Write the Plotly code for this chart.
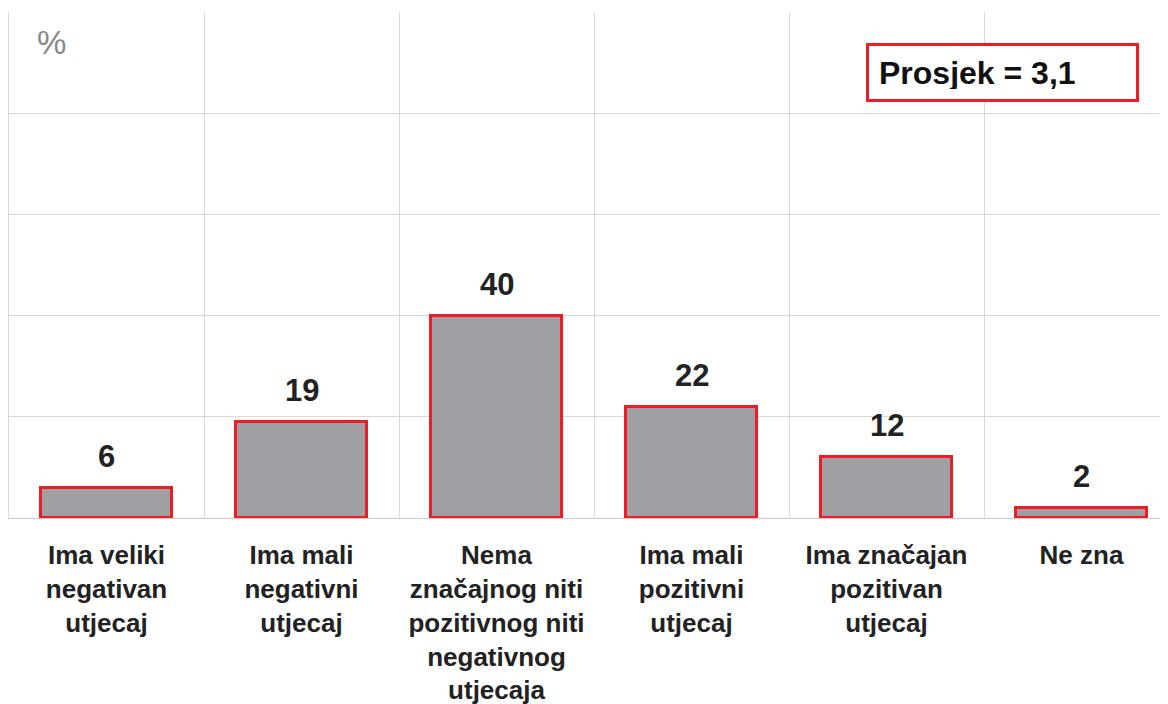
import plotly.graph_objects as go

categories = [
    "Ima veliki<br>negativan<br>utjecaj",
    "Ima mali<br>negativni<br>utjecaj",
    "Nema<br>značajnog niti<br>pozitivnog niti<br>negativnog<br>utjecaja",
    "Ima mali<br>pozitivni<br>utjecaj",
    "Ima značajan<br>pozitivan<br>utjecaj",
    "Ne zna",
]
values = [6, 19, 40, 22, 12, 2]
value_labels = ["6", "19", "40", "22", "12", "2"]
average_text = "Prosjek = 3,1"
unit_text = "%"

FONT = "Liberation Sans, Arial, sans-serif"
RED = "#ee1c25"
GRAY_FILL = "#a09fa4"
GRID = "#d9d9d9"
DARK = "#222222"

positions = list(range(len(categories)))

fig = go.Figure()
fig.add_trace(go.Bar(
    x=positions,
    y=values,
    width=0.67,
    marker=dict(color=GRAY_FILL, line=dict(color=RED, width=3)),
    hoverinfo="skip",
))

for p, v, t in zip(positions, values, value_labels):
    fig.add_annotation(
        x=p, y=v, text=f"<b>{t}</b>", showarrow=False,
        xanchor="center", yanchor="bottom", yshift=12,
        font=dict(family=FONT, size=31, color=DARK),
    )

fig.add_annotation(
    xref="paper", yref="paper", x=0.0371, y=0.9407,
    text=unit_text, showarrow=False, xanchor="center", yanchor="middle",
    font=dict(family=FONT, size=33, color="#888888"),
)

fig.add_annotation(
    xref="paper", yref="paper", x=0.8568, y=0.8814,
    text=f"<b>{average_text}</b>", showarrow=False,
    xanchor="center", yanchor="middle", align="left",
    width=247, height=33, borderpad=10,
    bordercolor=RED, borderwidth=3, bgcolor="white",
    font=dict(family=FONT, size=32, color="#111111"),
)

fig.update_layout(
    width=1160, height=696,
    margin=dict(l=1, r=0, t=4, b=186),
    paper_bgcolor="white", plot_bgcolor="white",
    showlegend=False,
    bargap=0,
)

fig.update_xaxes(
    range=[-0.5, 5.5 - 11 / 195],
    tickvals=positions, ticktext=[f"<b>{c}</b>" for c in categories],
    tickfont=dict(family=FONT, size=26, color=DARK),
    ticklabelstandoff=14,
    showgrid=False, zeroline=False,
    showline=True, linecolor="#cccccc", linewidth=1,
    ticks="",
    minor=dict(tickvals=[p - 0.5 for p in positions] + [len(positions) - 0.5],
               showgrid=True, gridcolor=GRID, gridwidth=1, ticks=""),
)
fig.update_yaxes(
    range=[0, 100], dtick=20,
    showgrid=True, gridcolor=GRID, gridwidth=1,
    showticklabels=False, zeroline=False,
    showline=True, linecolor=GRID, linewidth=1,
)

fig.write_html("out.html")
